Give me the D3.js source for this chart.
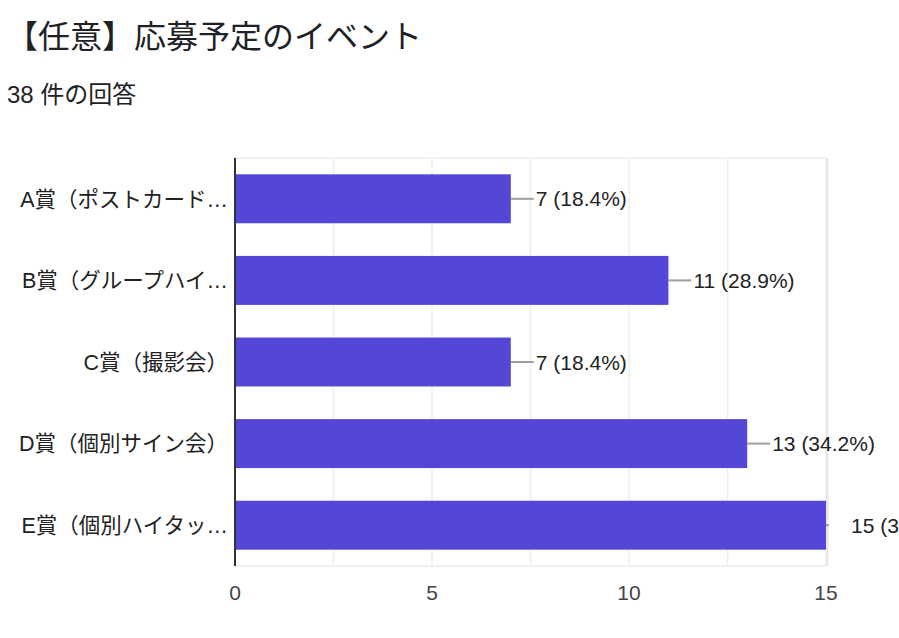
<!DOCTYPE html>
<html>
<head>
<meta charset="utf-8">
<script src="https://cdn.jsdelivr.net/npm/d3@7"></script>
<style>
  body { margin: 0; background: #fff; overflow: hidden; }
  svg { display: block; font-family: "Liberation Sans", Arial, "Noto Sans CJK JP", sans-serif; }
</style>
</head>
<body>
<div id="chart"></div>
<script>
var title = "【任意】応募予定のイベント";
var subtitle = "38 件の回答";
var totalAnswers = 38;

var categories = ["A賞（ポストカード…", "B賞（グループハイ…", "C賞（撮影会）", "D賞（個別サイン会）", "E賞（個別ハイタッ…"];
var counts = [7, 11, 7, 13, 15];
var tickValues = [0, 5, 10, 15];
var gridValues = [2.5, 5, 7.5, 10, 12.5];

var W = 899, H = 638;
var margin = {top: 158, right: 73, bottom: 72, left: 235},
    width = W - margin.left - margin.right,
    height = H - margin.top - margin.bottom;

var svg = d3.select("#chart").append("svg")
    .attr("width", W)
    .attr("height", H);

svg.append("text")
    .attr("x", 6)
    .attr("y", 48)
    .style("font-size", "32px")
    .style("fill", "#202124")
    .text(title);

svg.append("text")
    .attr("x", 7)
    .attr("y", 103)
    .style("font-size", "24px")
    .style("fill", "#202124")
    .text(subtitle);

var g = svg.append("g")
    .attr("transform", "translate(" + margin.left + "," + margin.top + ")");

var x = d3.scaleLinear()
    .domain([0, 15])
    .range([0, width]);

var y = d3.scaleBand()
    .domain(categories)
    .range([0, height])
    .paddingInner(0.4)
    .paddingOuter(0.2);

// grid
g.append("line")
    .attr("x1", 0).attr("x2", width)
    .attr("y1", 0).attr("y2", 0)
    .style("stroke", "#ececec").style("stroke-width", 1.5);
g.append("line")
    .attr("x1", 0).attr("x2", width)
    .attr("y1", height).attr("y2", height)
    .style("stroke", "#ececec").style("stroke-width", 1.5);

g.selectAll(".grid")
    .data(gridValues)
    .enter().append("line")
    .attr("class", "grid")
    .attr("x1", function(d) { return x(d); })
    .attr("x2", function(d) { return x(d); })
    .attr("y1", 0)
    .attr("y2", height)
    .style("stroke", "#efefef")
    .style("stroke-width", 1.5);

g.append("line")
    .attr("x1", x(15) + 1).attr("x2", x(15) + 1)
    .attr("y1", 0).attr("y2", height)
    .style("stroke", "#e8e8e8").style("stroke-width", 3);

g.append("clipPath").attr("id", "plotclip")
    .append("rect")
    .attr("x", 0).attr("y", 0)
    .attr("width", width + 3).attr("height", height);

// leader lines
g.selectAll(".lead")
    .data(counts)
    .enter().append("line")
    .attr("class", "lead")
    .attr("clip-path", "url(#plotclip)")
    .attr("x1", function(d) { return x(d); })
    .attr("x2", function(d) { return x(d) + 23; })
    .attr("y1", function(d, i) { return y(categories[i]) + y.bandwidth() / 2; })
    .attr("y2", function(d, i) { return y(categories[i]) + y.bandwidth() / 2; })
    .style("stroke", "#9e9e9e")
    .style("stroke-width", 2);

// bars
g.selectAll(".bar")
    .data(counts)
    .enter().append("rect")
    .attr("class", "bar")
    .attr("x", 0)
    .attr("y", function(d, i) { return y(categories[i]); })
    .attr("width", function(d) { return x(d); })
    .attr("height", y.bandwidth())
    .style("fill", "#5447d8");

// value labels
g.selectAll(".val")
    .data(counts)
    .enter().append("text")
    .attr("class", "val")
    .attr("x", function(d) { return x(d) + 25; })
    .attr("y", function(d, i) { return y(categories[i]) + y.bandwidth() / 2; })
    .attr("dy", ".36em")
    .style("font-size", "21px")
    .style("fill", "#222")
    .text(function(d) { return d + " (" + (d / totalAnswers * 100).toFixed(1) + "%)"; });

// category labels
g.selectAll(".cat")
    .data(categories)
    .enter().append("text")
    .attr("class", "cat")
    .attr("x", -7)
    .attr("y", function(d) { return y(d) + y.bandwidth() / 2; })
    .attr("dy", ".36em")
    .style("text-anchor", "end")
    .style("font-size", "21.5px")
    .style("fill", "#222")
    .text(function(d) { return d; });

// left axis line
g.append("line")
    .attr("x1", 0).attr("x2", 0)
    .attr("y1", 0).attr("y2", height)
    .style("stroke", "#333")
    .style("stroke-width", 2);

// x tick labels
g.selectAll(".tick-label")
    .data(tickValues)
    .enter().append("text")
    .attr("class", "tick-label")
    .attr("x", function(d) { return x(d); })
    .attr("y", height + 34)
    .style("text-anchor", "middle")
    .style("font-size", "21px")
    .style("fill", "#444")
    .text(function(d) { return d; });
</script>
</body>
</html>
